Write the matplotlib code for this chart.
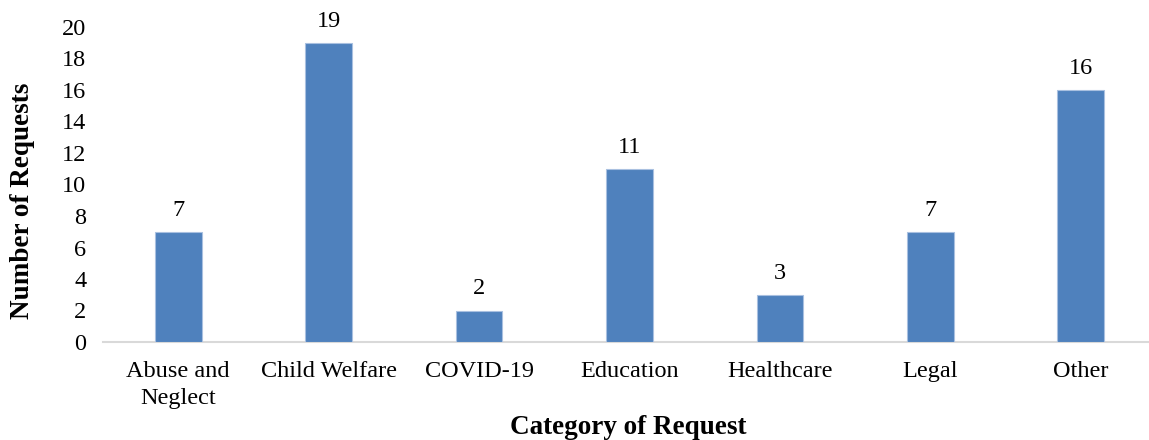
import matplotlib
matplotlib.use("Agg")
import matplotlib.pyplot as plt

categories = ["Abuse and\nNeglect", "Child Welfare", "COVID-19", "Education", "Healthcare", "Legal", "Other"]
values = [7, 19, 2, 11, 3, 7, 16]
yticks = [0, 2, 4, 6, 8, 10, 12, 14, 16, 18, 20]

plt.rcParams['font.family'] = ['Liberation Serif', 'DejaVu Serif']

fig = plt.figure(figsize=(11.49, 4.4), dpi=100)
ax = fig.add_axes([103/1149, (440-342)/440, (1156-103)/1149, (342-27)/440])

x = list(range(len(categories)))
ax.bar(x, values, width=0.31, color="#4F81BD", edgecolor="#A9C0E0", linewidth=0.8, zorder=3)
for xi, v in zip(x, values):
    ax.annotate(str(v), (xi, v), xytext=(0, 8), textcoords="offset points",
                ha="center", va="bottom", fontsize=17.5)

ax.set_xlim(-0.5, 6.5)
ax.set_ylim(0, 20)
ax.set_yticks(yticks)
ax.set_xticks(x)
ax.set_xticklabels(categories, fontsize=17.5, linespacing=1.4)
ax.tick_params(axis='y', labelsize=17.5, length=0, pad=12)
ax.tick_params(axis='x', length=0, pad=13.5)
for s in ["top", "right", "left"]:
    ax.spines[s].set_visible(False)
ax.spines["bottom"].set_color("#D9D9D9")
ax.spines["bottom"].set_linewidth(1.5)

ax.set_ylabel("Number of Requests", fontsize=19.5, fontweight="bold")
ax.yaxis.set_label_coords(-(103-23)/1053, (342-201)/315)
ax.yaxis.label.set_va("center")
fig.text(628/1149, 1 - 427/440, "Category of Request", fontsize=19.5, fontweight="bold",
         ha="center", va="center")

fig.savefig("out.png", dpi=100)
